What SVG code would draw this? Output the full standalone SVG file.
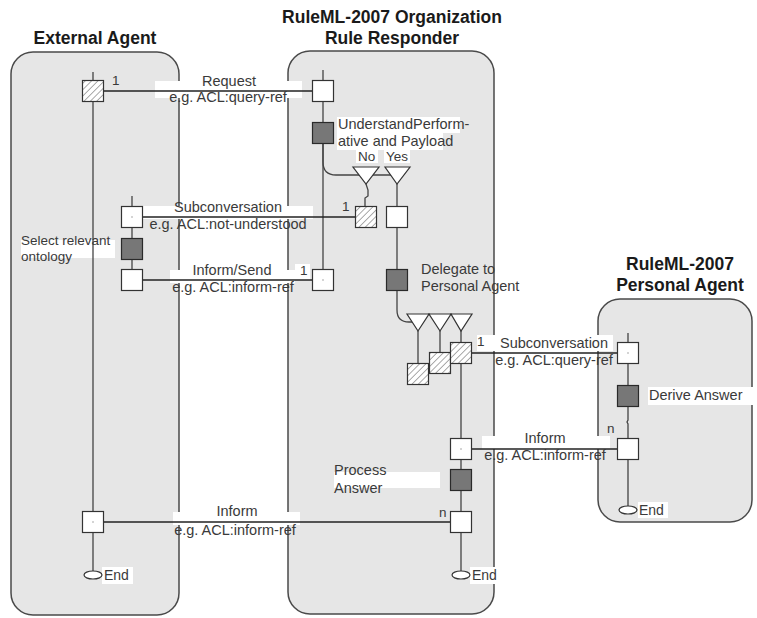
<svg xmlns="http://www.w3.org/2000/svg" width="757" height="618" viewBox="0 0 757 618">
<defs>
<pattern id="hatch" patternUnits="userSpaceOnUse" width="4.5" height="4.5" patternTransform="rotate(45)">
<rect width="4.5" height="4.5" fill="#ffffff"/>
<line x1="0" y1="0" x2="0" y2="4.5" stroke="#555" stroke-width="1"/>
</pattern>
</defs>
<style>
.panel{fill:#e6e6e6;stroke:#4a4a4a;stroke-width:1.5}
.title{font-family:"Liberation Sans",Arial,sans-serif;font-weight:bold;font-size:17.5px;fill:#1a1a1a;text-anchor:middle}
.lbl{font-family:"Liberation Sans",Arial,sans-serif;font-size:14.5px;fill:#3a3a3a}
.mid{text-anchor:middle}
.sm{font-family:"Liberation Sans",Arial,sans-serif;font-size:13.5px;fill:#3a3a3a}
.bg{fill:#ffffff}
.life{stroke:#444;stroke-width:1.3;fill:none}
.conn{stroke:#222;stroke-width:1.3;fill:none}
.wbox{fill:#ffffff;stroke:#333;stroke-width:1.2}
.dbox{fill:#777777;stroke:#2a2a2a;stroke-width:1.2}
.hbox{fill:url(#hatch);stroke:#333;stroke-width:1.2}
.tri{fill:#ffffff;stroke:#333;stroke-width:1.2}
.endE{fill:#ffffff;stroke:#333;stroke-width:1.2}
.dot{fill:#888}
</style>

<!-- panels -->
<g id="panel-external">
<rect class="panel" x="11" y="52" width="168" height="563" rx="22"/>
<text class="title" x="95" y="44">External Agent</text>
</g>
<g id="panel-org">
<rect class="panel" x="288" y="51" width="206" height="563" rx="22"/>
<text class="title" x="392" y="23">RuleML-2007 Organization</text>
<text class="title" x="392" y="44">Rule Responder</text>
</g>
<g id="panel-personal">
<rect class="panel" x="598" y="299" width="154" height="223" rx="22"/>
<text class="title" x="680" y="270">RuleML-2007</text>
<text class="title" x="680" y="291">Personal Agent</text>
</g>

<!-- label backgrounds -->
<g id="label-bgs">
<rect class="bg" x="155" y="81" width="147" height="17"/>
<rect class="bg" x="143" y="206" width="170" height="13"/>
<rect class="bg" x="170" y="270" width="125" height="13"/>
<rect class="bg" x="295" y="264" width="15" height="16"/>
<rect class="bg" x="477" y="335" width="136" height="16"/>
<rect class="bg" x="482" y="436" width="128" height="13"/>
<rect class="bg" x="173" y="512" width="127" height="13"/>
<rect class="bg" x="21" y="240" width="94" height="18"/>
<rect class="bg" x="337" y="117" width="123" height="16"/>
<rect class="bg" x="337" y="133" width="106" height="17"/>
<rect class="bg" x="356" y="150" width="22" height="13"/>
<rect class="bg" x="384" y="150" width="26" height="13"/>
<rect class="bg" x="334" y="472" width="106" height="16"/>
<rect class="bg" x="648" y="387" width="105" height="18"/>
<rect class="bg" x="102" y="567" width="31" height="17"/>
<rect class="bg" x="470" y="567" width="30" height="17"/>
<rect class="bg" x="638" y="502" width="30" height="16"/>
</g>

<!-- connectors and lifelines -->
<g id="connectors">
<line class="life" x1="93" y1="72" x2="93" y2="571"/>
<line class="life" x1="132" y1="196" x2="132" y2="280"/>
<line class="life" x1="323" y1="70" x2="323" y2="280"/>
<path class="life" d="M323,144 L323,162 Q323,175 336,175 L392,175"/>
<path class="life" d="M366,184 L368,190 L368,196 L365,198 L365,207"/>
<line class="life" x1="397" y1="184" x2="397" y2="280"/>
<path class="life" d="M397,291 L397,310 Q397,322 409,322 L412,322"/>
<line class="life" x1="418" y1="331" x2="418" y2="364"/>
<line class="life" x1="440" y1="331" x2="440" y2="353"/>
<line class="life" x1="461" y1="331" x2="461" y2="571"/>
<path class="life" d="M628,333 L628,420 L627,422 L628,424 L628,506"/>

<line class="conn" x1="104" y1="91" x2="313" y2="91"/>
<line class="conn" x1="143" y1="217" x2="355" y2="217"/>
<line class="conn" x1="143" y1="280" x2="313" y2="280"/>
<line class="conn" x1="472" y1="353" x2="618" y2="353"/>
<line class="conn" x1="471" y1="449" x2="618" y2="449"/>
<line class="conn" x1="104" y1="522" x2="450" y2="522"/>
</g>

<!-- connector labels -->
<g id="connector-labels">
<text class="lbl mid" x="229" y="86">Request</text>
<text class="lbl mid" x="228" y="102">e.g. ACL:query-ref</text>
<text class="sm" x="112" y="85">1</text>
<text class="lbl mid" x="228" y="212">Subconversation</text>
<text class="lbl mid" x="228" y="229">e.g. ACL:not-understood</text>
<text class="sm" x="342" y="211">1</text>
<text class="lbl mid" x="232" y="275">Inform/Send</text>
<text class="lbl mid" x="233" y="292">e.g. ACL:inform-ref</text>
<text class="sm" x="300" y="275">1</text>
<text class="lbl mid" x="554" y="348">Subconversation</text>
<text class="lbl mid" x="554" y="365">e.g. ACL:query-ref</text>
<text class="sm" x="477" y="346">1</text>
<text class="lbl mid" x="545" y="443">Inform</text>
<text class="lbl mid" x="545" y="460">e.g. ACL:inform-ref</text>
<text class="sm" x="607" y="433">n</text>
<text class="lbl mid" x="237" y="516">Inform</text>
<text class="lbl mid" x="235" y="535">e.g. ACL:inform-ref</text>
<text class="sm" x="439" y="517">n</text>
</g>

<!-- External Agent nodes -->
<g id="ea-request"><rect class="hbox" x="82.5" y="80.5" width="21" height="21"/></g>
<g id="ea-subconv"><rect class="wbox" x="121.5" y="206.5" width="21" height="21"/><circle class="dot" cx="132" cy="217" r="0.7"/></g>
<g id="ea-select"><rect class="dbox" x="121.5" y="238.5" width="21" height="21"/>
<text class="lbl" style="font-size:13.5px" x="21" y="245">Select relevant</text>
<text class="lbl" style="font-size:13.5px" x="21" y="261">ontology</text></g>
<g id="ea-inform-send"><rect class="wbox" x="121.5" y="269.5" width="21" height="21"/></g>
<g id="ea-inform"><rect class="wbox" x="82.5" y="511.5" width="21" height="21"/><circle class="dot" cx="93" cy="522" r="0.7"/></g>
<g id="ea-end"><ellipse class="endE" cx="93" cy="575" rx="9" ry="4"/><text class="lbl" style="font-size:14px" x="104" y="580">End</text></g>

<!-- Organization nodes -->
<g id="org-request"><rect class="wbox" x="312.5" y="80.5" width="21" height="21"/></g>
<g id="org-understand"><rect class="dbox" x="312.5" y="122.5" width="21" height="21"/>
<text class="lbl" x="338" y="129">UnderstandPerform-</text>
<text class="lbl" x="338" y="146">ative and Payload</text></g>
<g id="org-no"><polygon class="tri" points="353,167 379,167 366,184"/><text class="sm" x="358" y="161">No</text></g>
<g id="org-yes"><polygon class="tri" points="385,167 410,167 397,184"/><text class="sm" x="386" y="161">Yes</text></g>
<g id="org-subconv"><rect class="hbox" x="355.5" y="206.5" width="21" height="21"/></g>
<g id="org-yesbox"><rect class="wbox" x="386.5" y="206.5" width="21" height="21"/></g>
<g id="org-inform-send"><rect class="wbox" x="312.5" y="269.5" width="21" height="21"/><circle class="dot" cx="323" cy="280" r="0.7"/></g>
<g id="org-delegate"><rect class="dbox" x="386.5" y="269.5" width="21" height="21"/>
<text class="lbl" x="421" y="274">Delegate to</text>
<text class="lbl" x="421" y="291">Personal Agent</text></g>
<g id="org-split"><polygon class="tri" points="407,314 429,314 418,331"/><polygon class="tri" points="429,314 451,314 440,331"/><polygon class="tri" points="451,314 472,314 461,331"/></g>
<g id="org-sub-a"><rect class="hbox" x="407.5" y="363.5" width="21" height="21"/></g>
<g id="org-sub-b"><rect class="hbox" x="429.5" y="352.5" width="21" height="21"/></g>
<g id="org-sub-c"><rect class="hbox" x="450.5" y="342.5" width="21" height="21"/></g>
<g id="org-inform-recv"><rect class="wbox" x="450.5" y="438.5" width="21" height="21"/><circle class="dot" cx="461" cy="449" r="0.7"/></g>
<g id="org-process"><rect class="dbox" x="450.5" y="469.5" width="21" height="21"/>
<text class="lbl" x="334" y="475">Process</text>
<text class="lbl" x="334" y="493">Answer</text></g>
<g id="org-inform"><rect class="wbox" x="450.5" y="511.5" width="21" height="21"/></g>
<g id="org-end"><ellipse class="endE" cx="461" cy="575" rx="9" ry="4"/><text class="lbl" style="font-size:14px" x="472" y="580">End</text></g>

<!-- Personal Agent nodes -->
<g id="pa-subconv"><rect class="wbox" x="617.5" y="342.5" width="21" height="21"/><circle class="dot" cx="628" cy="353" r="0.7"/></g>
<g id="pa-derive"><rect class="dbox" x="617.5" y="385.5" width="21" height="21"/>
<text class="lbl" x="649" y="400">Derive Answer</text></g>
<g id="pa-inform"><rect class="wbox" x="617.5" y="438.5" width="21" height="21"/></g>
<g id="pa-end"><ellipse class="endE" cx="628" cy="510" rx="9" ry="4"/><text class="lbl" style="font-size:14px" x="639" y="515">End</text></g>
</svg>
